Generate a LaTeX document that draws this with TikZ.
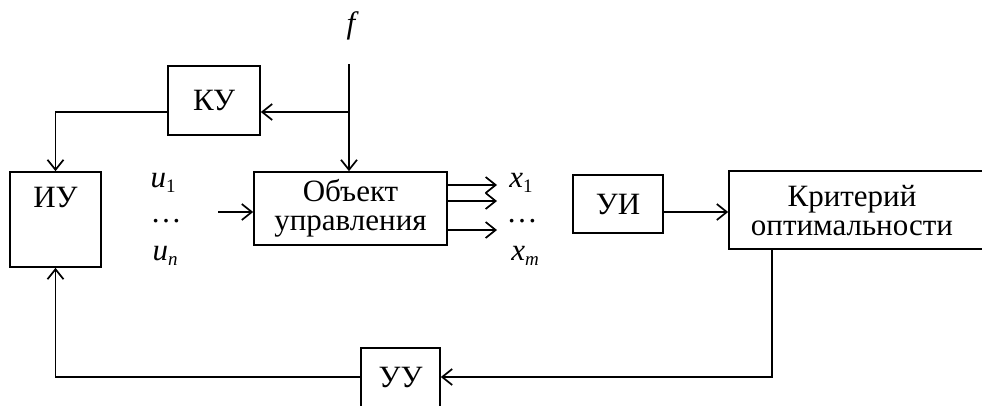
\documentclass[tikz,border=0pt]{standalone}
\usepackage{fontspec}
\setmainfont{Liberation Serif}
\usetikzlibrary{arrows.meta}
\newcommand\mysub[1]{\raisebox{-0.4ex}{\fontsize{19}{19}\selectfont #1}}
\begin{document}
\begin{tikzpicture}[x=1pt,y=-1pt,
  every node/.style={font=\fontsize{31}{34}\selectfont},
  box/.style={draw,line width=1.7pt,inner sep=0pt},
  conn/.style={line width=1.7pt},
  lbl/.style={inner sep=0pt},
  >={Straight Barb[length=10pt,width=16pt,line width=1.7pt]}]
\useasboundingbox (0,0) rectangle (982,405);
\fill[white] (0,0) rectangle (982,405);
% boxes
\node[box,minimum width=92pt,minimum height=69pt] (ku) at (214,100.5) {КУ};
\node[box,minimum width=91pt,minimum height=95pt] (iu) at (55.5,219.5) {};
\node (iut) at (55.5,197) {ИУ};
\node[box,minimum width=193pt,minimum height=73pt,align=center] (ob) at (350.5,208.5) {Объект\\[-5pt]управления};
\node[box,minimum width=90pt,minimum height=58pt] (ui) at (618,204) {УИ};
\node[box,minimum width=260pt,minimum height=78pt] (kr) at (859,210) {};
\node[align=center] (krt) at (852,211) {Критерий\\[-5pt]оптимальности};
\node[box,minimum width=79pt,minimum height=64pt] (uu) at (400.5,380) {};
\node (uut) at (400.5,377) {УУ};
% labels
\node (f) at (351,26) {\itshape f};
\coordinate (ftop) at (349,64);
\node[lbl] (u1) at (163,183) {\itshape u\mysub{\upshape 1}};
\node[lbl] (ud) at (166,221) {\dots};
\node[lbl] (un) at (165,256) {\itshape u\mysub{n}};
\node[lbl] (x1) at (521,183) {\itshape x\mysub{\upshape 1}};
\node[lbl] (xd) at (522,221) {\dots};
\node[lbl] (xm) at (525,256) {\itshape x\mysub{m}};
% connectors
\coordinate (br) at (349,112);
\draw[conn,->] (ftop) -- (ob.north -| ftop);
\draw[conn,->] (br) -- (br -| ku.east);
\draw[conn,->] (ku.west |- br) -| (iu.north);
\coordinate (uin) at (218,212);
\draw[conn,->] (uin) -- (uin -| ob.west);
\foreach \yy/\nm in {185/a,201/b,230/c}{
  \coordinate (out\nm) at (497,\yy);
  \draw[conn,->] (ob.east |- out\nm) -- (out\nm);
}
\coordinate (uim) at (0,212);
\draw[conn,->] (uim -| ui.east) -- (uim -| kr.west);
\coordinate (krb) at (772,0);
\coordinate (lp) at (0,377);
\draw[conn,->] (krb |- kr.south) -- (krb |- lp) -- (lp -| uu.east);
\draw[conn,->] (lp -| uu.west) -| (iu.south);
\end{tikzpicture}
\end{document}
